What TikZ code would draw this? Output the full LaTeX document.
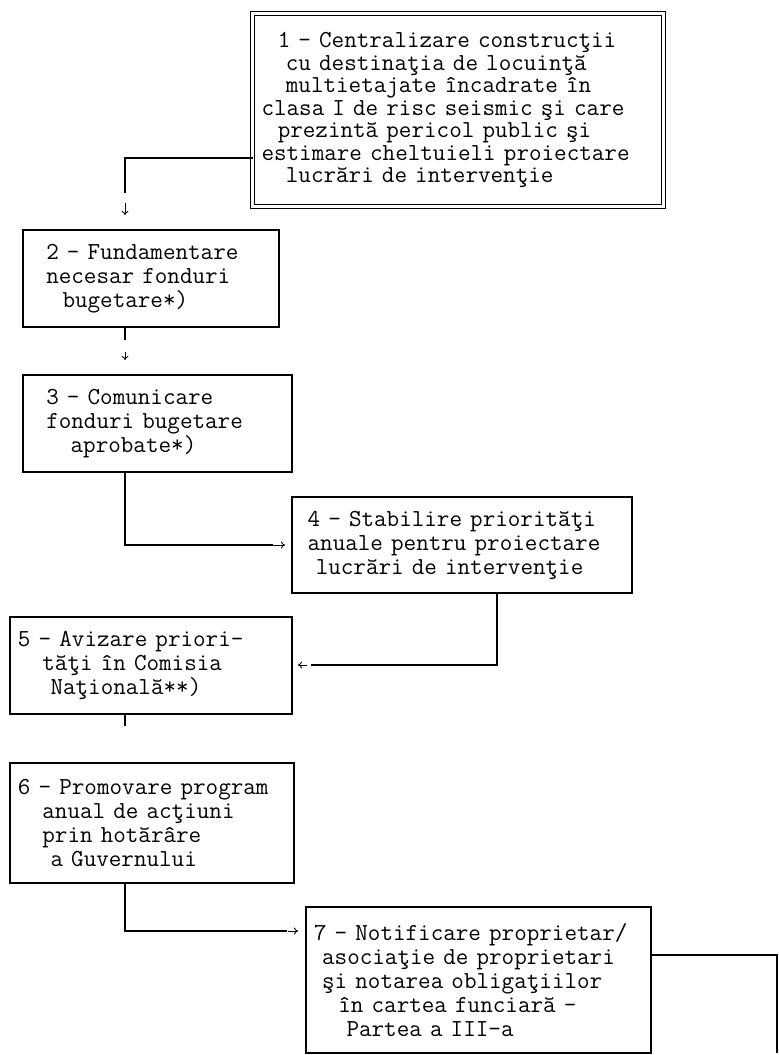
\documentclass[tikz,border=0pt]{standalone}
\usepackage{fontspec}
\usetikzlibrary{arrows.meta}

\tikzset{
	stage/.style={draw, line width=0.9pt, anchor=north west, outer sep=0pt,
		inner ysep=0pt, align=left,
		font=\ttfamily\fontsize{12.2pt}{12pt}\selectfont\frenchspacing},
	wire/.style={line width=0.9pt},
	tip/.style={line width=0.45pt, -{To[length=2pt,width=3.4pt]}}
}

\begin{document}
\begin{tikzpicture}[x=0.5pt, y=-0.5pt]
	\useasboundingbox (0,0) rectangle (778,1055);

	% boxes
	\node [stage, double, line width=0.5pt, double distance=1.2pt,
		text width=196.5pt, inner xsep=4.5pt, minimum height=96.5pt,
		font=\ttfamily\fontsize{12.2pt}{11.25pt}\selectfont\frenchspacing] (n1) at (252.5, 13.5)
		{~~1 - Centralizare construcţii\\ ~~~cu destinaţia de locuinţă\\ ~~~multietajate încadrate în\\
		 clasa I de risc seismic şi care\\ ~~prezintă pericol public şi\\
		 estimare cheltuieli proiectare\\ ~~~lucrări de intervenţie};
	\node [stage, text width=121pt, inner xsep=3.5pt, minimum height=48.5pt] (n2) at (23, 230)
		{~~2 - Fundamentare\\ ~~necesar fonduri\\ ~~~~bugetare*)};
	\node [stage, text width=127.5pt, inner xsep=3.5pt, minimum height=48.5pt] (n3) at (23, 375)
		{~~3 - Comunicare\\ ~~fonduri bugetare\\ ~~~~~aprobate*)};
	\node [stage, text width=162.5pt, inner xsep=3.75pt, minimum height=48pt] (n4) at (292, 497)
		{~4 - Stabilire priorităţi\\ ~anuale pentru proiectare\\ ~~lucrări de intervenţie};
	\node [stage, text width=133pt, inner xsep=4pt, minimum height=48.5pt] (n5) at (10, 617)
		{5 - Avizare priori-\\ ~~~tăţi în Comisia\\ ~~~~Naţională**)};
	\node [stage, text width=134pt, inner xsep=4pt, minimum height=60pt] (n6) at (10, 763)
		{6 - Promovare program\\ ~~~anual de acţiuni\\ ~~~prin hotărâre\\ ~~~~a Guvernului};
	\node [stage, text width=164.5pt, inner xsep=4pt, minimum height=73pt] (n7) at (306, 907)
		{7 - Notificare proprietar/\\ ~asociaţie de proprietari\\ ~şi notarea obligaţiilor\\
		 ~~~în cartea funciară -\\ ~~~~Partea a III-a};

	% bends and free ends
	\coordinate (a12) at (125, 193);
	\coordinate (a23) at (125, 340);
	\coordinate (a34) at (273, 545);
	\coordinate (b45) at (497, 665);
	\coordinate (a45) at (311, 665);
	\coordinate (a67) at (287, 931);
	\coordinate (e7) at (777, 1053);

	% connectors
	\draw [wire] (n1.west |- 0,158) -| (a12);
	\draw [tip, shorten >=7.5pt] (a12) ++(0,10) -- (n2.north -| a12);
	\draw [wire] (n2.south -| a23) -- (a23);
	\draw [tip, shorten >=7.5pt] (a23) ++(0,12) -- (n3.north -| a23);
	\draw [wire] (n3.south -| a23) |- (a34);
	\draw [tip, shorten >=3.5pt] (a34) -- (n4.west |- a34);
	\draw [wire] (n4.south -| b45) |- (a45);
	\draw [tip, shorten >=3pt] (a45) ++(-4,0) -- (n5.east |- a45);
	\draw [wire] (n5.south -| a23) -- ++(0,12);
	\draw [wire] (n6.south -| a23) |- (a67);
	\draw [tip, shorten >=4pt] (a67) ++(1,0) -- (n7.west |- a67);
	\draw [wire] (n7.east |- 0,955) -| (e7);
\end{tikzpicture}
\end{document}
